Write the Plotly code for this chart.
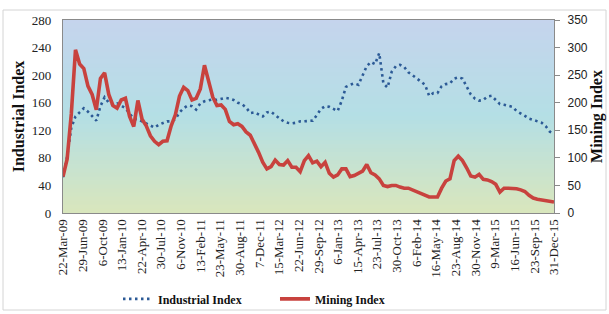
import plotly.graph_objects as go
import pandas as pd

industrial = [52, 82, 124, 140, 146, 152, 147, 140, 134, 155,
              168, 160, 157, 159, 156, 152, 144, 137, 136, 133,
              129, 127, 124, 128, 131, 133, 133, 136, 146, 152,
              156, 155, 150, 159, 162, 164, 165, 164, 166, 167,
              166, 164, 160, 158, 153, 145, 146, 143, 140, 146,
              147, 142, 137, 133, 131, 130, 131, 133, 133, 133,
              134, 142, 151, 155, 154, 151, 148, 163, 183, 186,
              188, 186, 200, 213, 219, 216, 232, 188, 182, 205,
              213, 215, 212, 204, 200, 195, 191, 186, 170, 174,
              174, 184, 187, 188, 195, 197, 195, 183, 172, 166,
              163, 164, 169, 170, 164, 158, 157, 156, 154, 148,
              145, 141, 137, 135, 134, 131, 126, 118, 115]

mining = [66, 98, 180, 296, 270, 262, 230, 215, 187, 244,
          254, 215, 195, 190, 205, 208, 175, 157, 204, 170,
          158, 140, 130, 124, 130, 131, 158, 178, 212, 228,
          222, 205, 208, 225, 268, 236, 210, 195, 196, 188,
          166, 160, 162, 157, 147, 141, 127, 110, 92, 80,
          84, 96, 88, 87, 95, 83, 83, 75, 95, 104,
          91, 94, 84, 92, 72, 65, 69, 80, 80, 66,
          68, 72, 76, 88, 73, 69, 62, 50, 48, 50,
          50, 47, 45, 45, 42, 38, 36, 32, 29, 29,
          29, 45, 58, 62, 95, 103, 95, 82, 67, 65,
          70, 61, 60, 57, 52, 38, 45, 45, 45, 44,
          42, 39, 32, 27, 25, 24, 23, 22, 20]

start_date = "2009-03-22"
end_date = "2015-12-31"
dates = pd.date_range(start_date, end_date, periods=len(industrial))

tick_labels = ["22-Mar-09", "29-Jun-09", "6-Oct-09", "13-Jan-10", "22-Apr-10",
               "30-Jul-10", "6-Nov-10", "13-Feb-11", "23-May-11", "30-Aug-11",
               "7-Dec-11", "15-Mar-12", "22-Jun-12", "29-Sep-12", "6-Jan-13",
               "15-Apr-13", "23-Jul-13", "30-Oct-13", "6-Feb-14", "16-May-14",
               "23-Aug-14", "30-Nov-14", "9-Mar-15", "16-Jun-15", "23-Sep-15",
               "31-Dec-15"]
tick_dates = pd.to_datetime(tick_labels, format="%d-%b-%y")

FONT = "Liberation Serif"
W, H = 609, 314
L, R, T, B = 63, 55, 20, 101

fig = go.Figure()
fig.add_trace(go.Scatter(x=dates, y=industrial, name="Industrial Index", mode="lines",
                         line=dict(color="#2c5a96", width=2.6, dash="2.5px,3.5px")))
fig.add_trace(go.Scatter(x=dates, y=mining, name="Mining Index", mode="lines",
                         line=dict(color="#c8423e", width=3.6), yaxis="y2"))

# gradient background of plot area
def lerp(a, b, t):
    return tuple(round(a[i] + (b[i] - a[i]) * t) for i in range(3))

top = (197, 212, 237)
mid = (180, 223, 229)
bot = (217, 230, 188)
n = 48
shapes = []
for k in range(n):
    f = (k + 0.5) / n  # 0 top -> 1 bottom
    c = lerp(top, mid, f / 0.5) if f < 0.5 else lerp(mid, bot, (f - 0.5) / 0.5)
    y1 = 1 - k / n
    y0 = 1 - (k + 1) / n
    shapes.append(dict(type="rect", xref="paper", yref="paper", x0=0, x1=1,
                       y0=y0 - 0.002, y1=y1 + 0.002, layer="below",
                       line=dict(width=0), fillcolor="rgb(%d,%d,%d)" % c))

pw, ph = W - L - R, H - T - B
shapes.append(dict(type="rect", xref="paper", yref="paper",
                   x0=(3 - L) / pw, x1=(606 - L) / pw,
                   y0=(H - B - 310) / ph, y1=(H - B - 10) / ph,
                   line=dict(color="#d4d4d4", width=1), layer="below"))

fig.update_layout(
    width=W, height=H,
    margin=dict(l=L, r=R, t=T, b=B, autoexpand=False),
    paper_bgcolor="white", plot_bgcolor="rgba(0,0,0,0)",
    font=dict(family=FONT, size=13, color="#222222"),
    shapes=shapes,
    showlegend=True,
    legend=dict(orientation="h", x=0.112, xanchor="left", y=-0.37, yanchor="top",
                font=dict(family=FONT, size=12, weight="bold", color="#111111"),
                entrywidth=112, entrywidthmode="pixels",
                bgcolor="rgba(0,0,0,0)"),
    xaxis=dict(type="date", range=[start_date, end_date], tickvals=tick_dates,
               ticktext=tick_labels, tickangle=-90, showgrid=False,
               showline=True, linecolor="#8a8a8a", linewidth=1.2, mirror=True,
               ticks="", tickfont=dict(family=FONT, size=13), zeroline=False),
    yaxis=dict(range=[0, 280], dtick=40, showgrid=False, showline=True,
               linecolor="#8a8a8a", linewidth=1.2, ticks="outside", ticklen=8,
               tickcolor="rgba(0,0,0,0)", zeroline=False,
               tickfont=dict(family=FONT, size=13),
               title=dict(text="Industrial Index", standoff=3,
                          font=dict(family=FONT, size=16, weight="bold", color="#111111"))),
    yaxis2=dict(range=[0, 350], dtick=50, overlaying="y", side="right",
                showgrid=False, showline=True, linecolor="#8a8a8a", linewidth=1.2,
                ticks="outside", ticklen=5, tickcolor="#8a8a8a", zeroline=False,
                ticklabelstandoff=5,
                tickfont=dict(family="Liberation Sans", size=12),
                title=dict(text="Mining Index", standoff=3,
                           font=dict(family=FONT, size=16, weight="bold", color="#111111"))),
)

fig.write_html("out.html")
